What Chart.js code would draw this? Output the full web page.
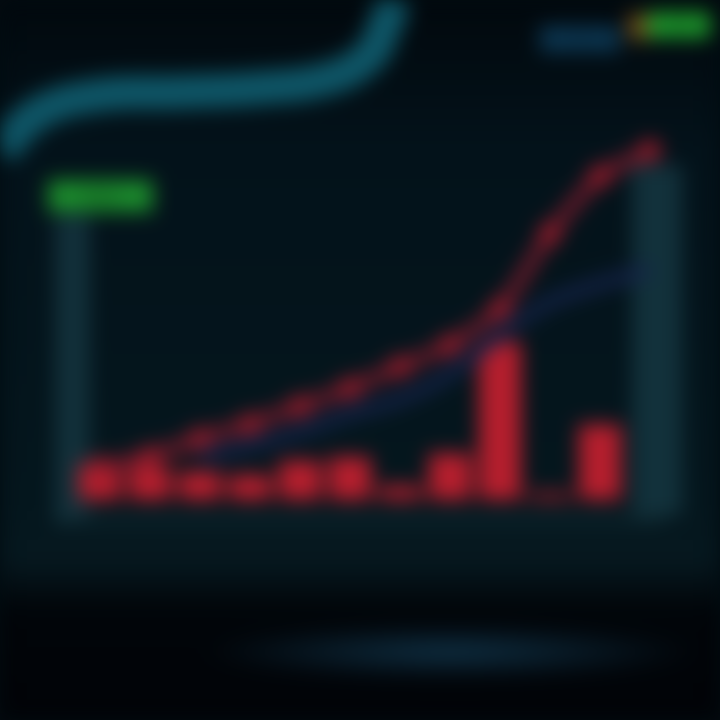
<!DOCTYPE html>
<html>
<head>
<meta charset="utf-8">
<script src="https://cdn.jsdelivr.net/npm/chart.js@4"></script>
<style>
  html, body { margin: 0; padding: 0; background: #020b10; }
  #wrap {
    position: relative; width: 720px; height: 720px; overflow: hidden;
    background:
      radial-gradient(ellipse 250px 28px at 450px 652px, rgba(18,58,82,0.8), rgba(0,0,0,0)),
      linear-gradient(#01080d 0px, #03121a 150px, #04161d 500px, #06181f 560px, #010509 610px, #010307 720px);
    filter: blur(10px);
  }
  #panel {
    position: absolute; left: 55px; top: 215px; width: 575px; height: 300px;
    border-left: 35px solid #12303a; border-right: 0;
    border-bottom: 10px solid #0d252d;
  }
  #pillar {
    position: absolute; left: 632px; top: 165px; width: 50px; height: 350px; background: #12313b;
  }
  #badge {
    position: absolute; left: 48px; top: 180px; width: 105px; height: 32px;
    background: #1b8a2c; color: #0a3010; font: 14px "DejaVu Sans"; line-height: 32px; text-align: center;
  }
  .key { position: absolute; height: 26px; font: 12px "DejaVu Sans"; line-height: 26px; text-align: center; }
  #k1 { left: 540px; top: 26px; width: 80px; background: #0b3550; color: #0d2738; }
  #k2 { left: 628px; top: 14px; width: 22px; background: #6a4a18; }
  #k3 { left: 648px; top: 12px; width: 62px; background: #1d9a2c; color: #0b3a12; }
  canvas { position: absolute; left: 0; top: 0; }
</style>
</head>
<body>
<div id="wrap">
  <div id="panel"></div>
  <div id="pillar"></div>
  <canvas id="wave" width="720" height="720"></canvas>
  <canvas id="chart" width="720" height="720"></canvas>
  <div id="badge">Sales</div>
  <div class="key" id="k1">Cost</div>
  <div class="key" id="k2"></div>
  <div class="key" id="k3">Profit</div>
</div>
<script>
const categories = ['Jan', 'Feb', 'Mar', 'Apr', 'May', 'Jun', 'Jul', 'Aug', 'Sep', 'Oct', 'Nov', 'Dec'];
const barValues = [10, 9, 8, 7, 11, 12, 4, 13, 44, 2, 21, 0];
const trendValues = [9, 12, 17, 21, 26, 31, 37, 43, 53, 74, 90, 97];
const costValues = [null, null, 12, 15, 19, 24, 28, 35, 46, 55, 60, 64];

// decorative teal curve at the top left
const waveX = [0, 40, 100, 180, 260, 330, 370, 385, 395];
const waveY = [150, 112, 95, 92, 88, 78, 55, 25, 0];

new Chart(document.getElementById('wave'), {
    type: 'line',
    data: {
        datasets: [{
            data: waveX.map((x, i) => ({ x: x, y: waveY[i] })),
            borderColor: '#0e5566',
            borderWidth: 34,
            pointRadius: 0,
            tension: 0.4
        }]
    },
    options: {
        responsive: false,
        animation: false,
        layout: { padding: 0 },
        plugins: { legend: { display: false }, tooltip: { enabled: false } },
        scales: {
            x: { type: 'linear', min: 0, max: 720, display: false },
            y: { type: 'linear', min: 0, max: 720, reverse: true, display: false }
        }
    }
});

new Chart(document.getElementById('chart'), {
    data: {
        labels: categories,
        datasets: [
            {
                type: 'line',
                label: 'Profit',
                data: trendValues,
                borderColor: '#6e1a2a',
                borderWidth: 14,
                pointRadius: 11,
                pointBackgroundColor: '#9c1b2b',
                pointBorderWidth: 0,
                tension: 0.2,
                order: 1
            },
            {
                type: 'line',
                label: 'Cost',
                data: costValues,
                borderColor: '#15234a',
                borderWidth: 12,
                pointRadius: 0,
                tension: 0.3,
                order: 2
            },
            {
                type: 'bar',
                label: 'Sales',
                data: barValues,
                backgroundColor: '#b51e2d',
                barPercentage: 0.85,
                categoryPercentage: 1,
                order: 3
            }
        ]
    },
    options: {
        responsive: false,
        animation: false,
        layout: { padding: { left: 75, right: 45, top: 140, bottom: 220 } },
        plugins: { legend: { display: false }, tooltip: { enabled: false } },
        scales: {
            x: { display: false, grid: { display: false } },
            y: { display: false, min: 0, max: 100, grid: { display: false } }
        }
    }
});
</script>
</body>
</html>
